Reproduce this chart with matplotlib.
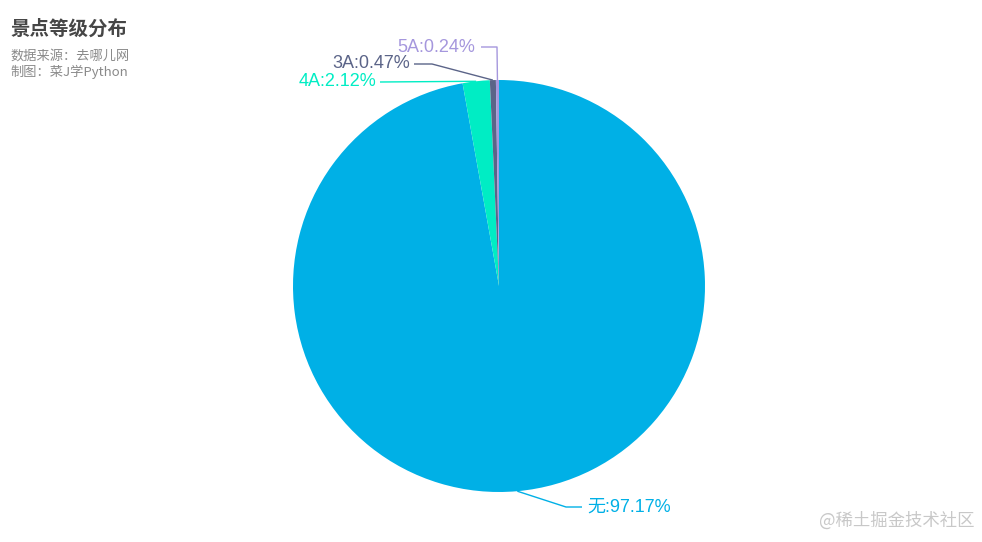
import numpy as np
import matplotlib
matplotlib.use("Agg")
import matplotlib.pyplot as plt

plt.rcParams['font.family'] = ['Noto Sans CJK SC', 'DejaVu Sans']

categories = ['无', '4A', '3A', '5A']
values = [97.17, 2.12, 0.47, 0.24]
colors = ['#00B0E6', '#00EDC4', '#5B6488', '#A597DD']
title = '景点等级分布'
subtitle = ['数据来源：去哪儿网', '制图：菜J学Python']

W, H = 982, 542
fig = plt.figure(figsize=(W / 100, H / 100), dpi=100)
ax = fig.add_axes([0, 0, 1, 1])

cx, cy, r = 499, H - 286, 206
wedges, _ = ax.pie(values, startangle=90, counterclock=False, center=(cx, cy),
                   radius=r, colors=colors, wedgeprops=dict(linewidth=0), frame=False)
for w in wedges:
    w.set_zorder(3)
ax.set_xlim(0, W)
ax.set_ylim(0, H)
ax.set_aspect('auto')
ax.axis('off')

def Y(y):
    return H - y

# label layout (elbow point, line end, text anchor), in screen pixels
layout = {
    '无': dict(elbow=(566, 507), end=(582, 507), text=(587, 507), ha='left'),
    '4A': dict(elbow=(380, 82), end=(380, 82), text=(376, 82), ha='right'),
    '3A': dict(elbow=(432, 64), end=(414, 64), text=(410, 64), ha='right'),
    '5A': dict(elbow=(497, 47), end=(481, 47), text=(475, 47), ha='right'),
}

label_font = ['Liberation Sans', 'Noto Sans CJK SC']
for w, cat, val, col in zip(wedges, categories, values, colors):
    mid = np.deg2rad((w.theta1 + w.theta2) / 2)
    ax_x = cx + r * np.cos(mid)
    ax_y = cy + r * np.sin(mid)
    L = layout[cat]
    ex, ey = L['elbow']
    nx, ny = L['end']
    ax.plot([ax_x, ex, nx], [ax_y, Y(ey), Y(ny)], color=col, lw=1, zorder=2,
            solid_capstyle='butt')
    tx, ty = L['text']
    ax.text(tx, Y(ty), f'{cat}:{val:.2f}%', color=col, fontsize=13,
            family=label_font, ha=L['ha'], va='center', zorder=4)

ax.text(10, Y(29), title, fontsize=14, fontweight='bold', color='#464646',
        ha='left', va='center')
ax.text(10, Y(56), subtitle[0], fontsize=9.5, color='#8a8a8a', ha='left', va='center')
ax.text(10, Y(72), subtitle[1], fontsize=9.5, color='#8a8a8a', ha='left', va='center')

ax.text(975, Y(521), '@稀土掘金技术社区', fontsize=12.5, color='#c8c8c8',
        ha='right', va='center')

fig.savefig('out.png', dpi=100)
